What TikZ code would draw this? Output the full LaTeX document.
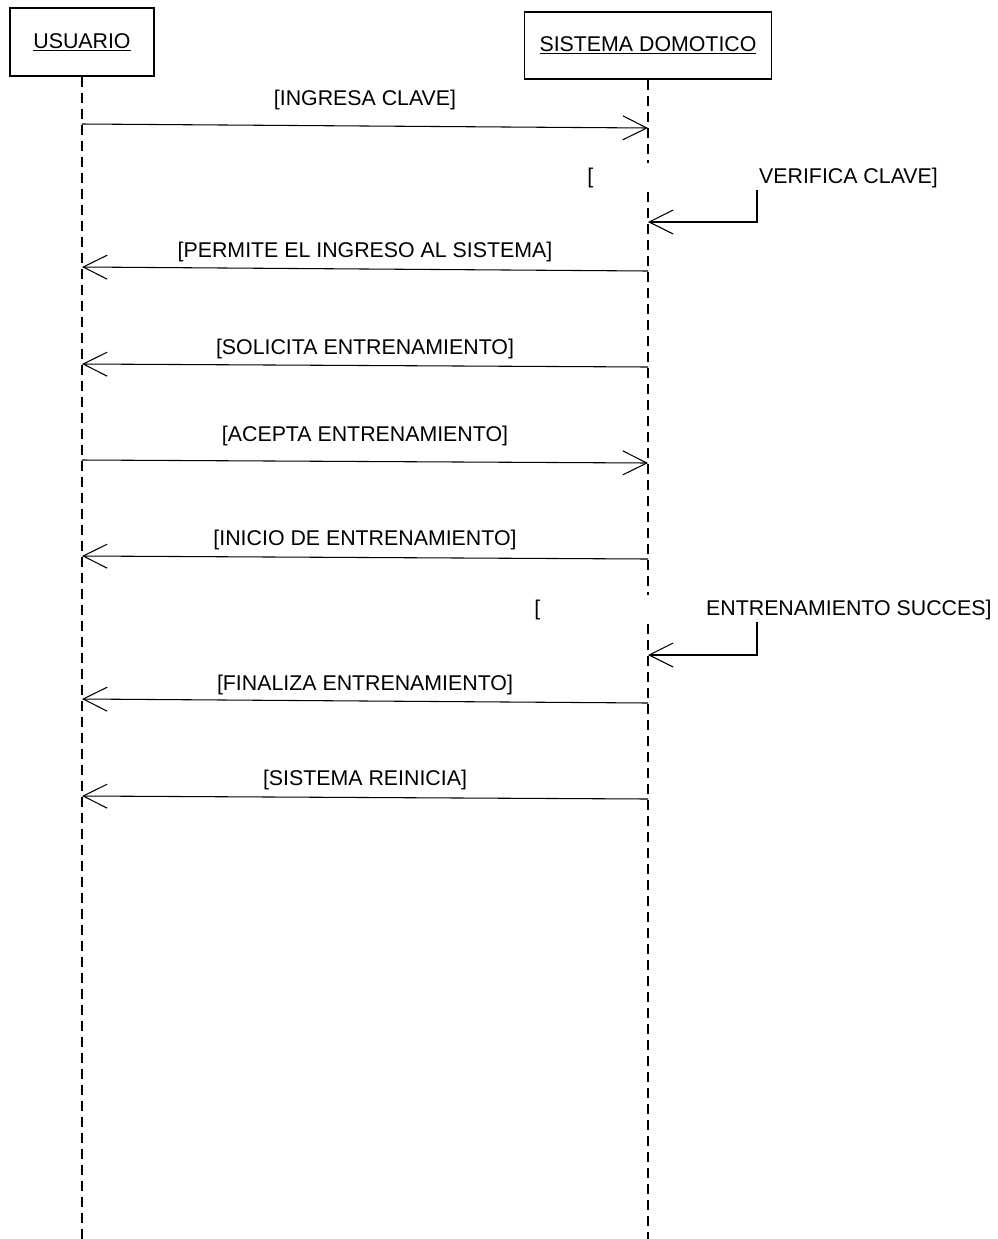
\documentclass[tikz,border=0pt]{standalone}
\usepackage{fontspec}
\setmainfont{Liberation Sans}
\usetikzlibrary{arrows.meta}
\begin{document}
\begin{tikzpicture}[x=0.75pt,y=-0.75pt,
  every node/.style={font=\fontsize{16}{19}\selectfont},
  actor/.style={draw, line width=0.8pt, inner sep=0},
  lifeline/.style={line width=0.8pt, dash pattern=on 7.5pt off 4.5pt},
  msg/.style={line width=0.8pt, -{Straight Barb[length=18pt,width=18pt]}},
  msglabel/.style={inner sep=0, anchor=base},
  selflabel/.style={fill=white, inner sep=0, minimum height=22pt, anchor=base west}]
\useasboundingbox (0,0) rectangle (997,1239);

% participants
\node[actor, minimum width=108pt, minimum height=51pt] (u) at (82,42) {\underline{USUARIO}};
\node[actor, minimum width=185.25pt, minimum height=50.25pt] (s) at (648,45.5) {\underline{SISTEMA DOMOTICO}};

% lifelines
\coordinate (uend) at (82,1239);
\coordinate (send) at (648,1239);
\draw[lifeline] (u.south) -- (uend);
\draw[lifeline] (s.south) -- (send);

% message end points on the lifelines
\coordinate (u1) at (82,124);  \coordinate (s1) at (648,128);
\coordinate (u2) at (82,267);  \coordinate (s2) at (648,271);
\coordinate (u3) at (82,364);  \coordinate (s3) at (648,367);
\coordinate (u4) at (82,460);  \coordinate (s4) at (648,463);
\coordinate (u5) at (82,556);  \coordinate (s5) at (648,559);
\coordinate (u6) at (82,699);  \coordinate (s6) at (648,703);
\coordinate (u7) at (82,796);  \coordinate (s7) at (648,799);

% messages between the participants
\draw[msg] (u1) -- (s1);
\node[msglabel] (l1) at (365,105) {[INGRESA CLAVE]};
\draw[msg] (s2) -- (u2);
\node[msglabel] (l2) at (365,257) {[PERMITE EL INGRESO AL SISTEMA]};
\draw[msg] (s3) -- (u3);
\node[msglabel] (l3) at (365,354) {[SOLICITA ENTRENAMIENTO]};
\draw[msg] (u4) -- (s4);
\node[msglabel] (l4) at (365,441) {[ACEPTA ENTRENAMIENTO]};
\draw[msg] (s5) -- (u5);
\node[msglabel] (l5) at (365,545) {[INICIO DE ENTRENAMIENTO]};
\draw[msg] (s6) -- (u6);
\node[msglabel] (l6) at (365,690) {[FINALIZA ENTRENAMIENTO]};
\draw[msg] (s7) -- (u7);
\node[msglabel] (l7) at (365,785) {[SISTEMA REINICIA]};

% self messages of the system
\node[selflabel] (v1) at (587,183) {[\hspace{124.5pt}VERIFICA CLAVE]};
\coordinate (v1a) at (757,190);
\coordinate (v1b) at (757,222);
\coordinate (v1c) at (648,222);
\draw[msg] (v1a) -- (v1b) -- (v1c);

\node[selflabel] (v2) at (534,615) {[\hspace{124.5pt}ENTRENAMIENTO SUCCES]};
\coordinate (v2a) at (757,622);
\coordinate (v2b) at (757,655);
\coordinate (v2c) at (648,655);
\draw[msg] (v2a) -- (v2b) -- (v2c);
\end{tikzpicture}
\end{document}
